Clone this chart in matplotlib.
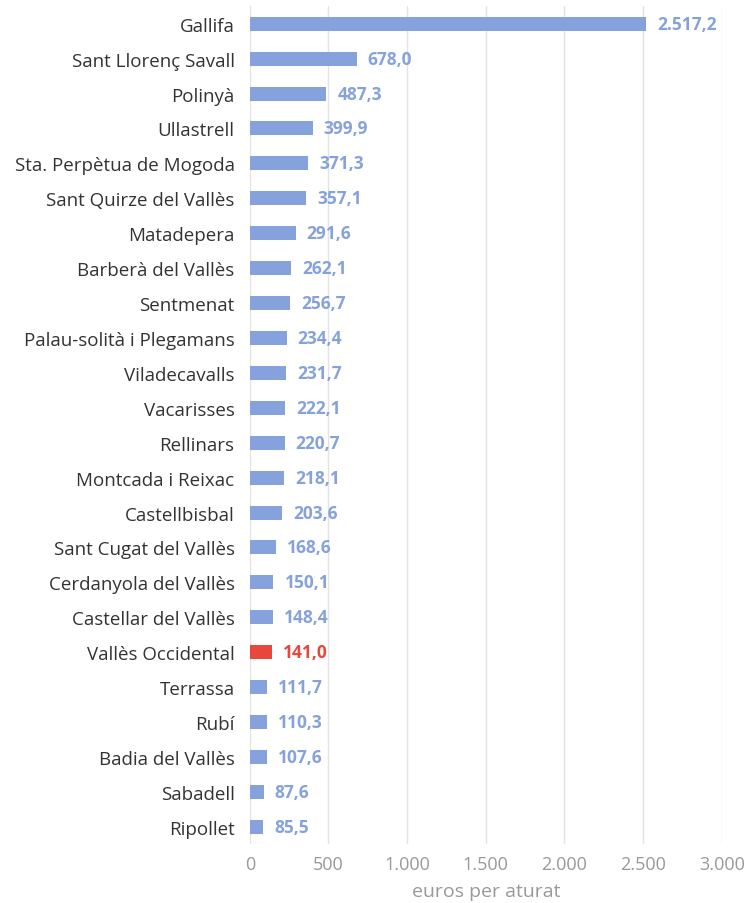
import matplotlib

matplotlib.use("Agg")

import matplotlib.pyplot as plt
from matplotlib.ticker import FuncFormatter

municipis = [
    "Gallifa", "Sant Llorenç Savall", "Polinyà", "Ullastrell",
    "Sta. Perpètua de Mogoda", "Sant Quirze del Vallès", "Matadepera",
    "Barberà del Vallès", "Sentmenat", "Palau-solità i Plegamans",
    "Viladecavalls", "Vacarisses", "Rellinars", "Montcada i Reixac",
    "Castellbisbal", "Sant Cugat del Vallès", "Cerdanyola del Vallès",
    "Castellar del Vallès", "Vallès Occidental", "Terrassa", "Rubí",
    "Badia del Vallès", "Sabadell", "Ripollet",
]
valors = [
    2517.2, 678.0, 487.3, 399.9, 371.3, 357.1, 291.6, 262.1, 256.7, 234.4,
    231.7, 222.1, 220.7, 218.1, 203.6, 168.6, 150.1, 148.4, 141.0, 111.7,
    110.3, 107.6, 87.6, 85.5,
]
destacat = "Vallès Occidental"

BLUE = "#86a2dc"
RED = "#e9463d"
FONT = "Open Sans"


def fmt_num(v, decimals=1):
    s = f"{v:,.{decimals}f}"
    return s.replace(",", "X").replace(".", ",").replace("X", ".")


fig = plt.figure(figsize=(7.48, 9.04), dpi=100)
ax = fig.add_axes([0.334, 0.065, 0.631, 0.927])

colors = [RED if m == destacat else BLUE for m in municipis]
ypos = list(range(len(municipis)))
ax.barh(ypos, valors, height=0.4, color=colors, zorder=3)

for y, v, c in zip(ypos, valors, colors):
    ax.text(v + 70, y, fmt_num(v), va="center", ha="left", color=c,
            fontsize=12.5, fontweight="bold", family=FONT, zorder=4)

ax.set_ylim(len(municipis) - 0.5, -0.5)
ax.set_xlim(0, 3000)
ax.set_xticks(range(0, 3001, 500))
ax.xaxis.set_major_formatter(FuncFormatter(lambda x, _: fmt_num(x, 0)))
ax.set_yticks(ypos)
ax.set_yticklabels(municipis, family=FONT, fontsize=13.5, color="#333333")
for lbl in ax.get_xticklabels():
    lbl.set_family(FONT)
ax.tick_params(axis="x", colors="#999999", labelsize=13, length=0, pad=8)
ax.tick_params(axis="y", length=0, pad=11)
ax.set_xlabel("euros per aturat", family=FONT, fontsize=14, color="#999999", labelpad=6)

ax.grid(axis="x", color="#e3e3e3", linewidth=1, zorder=0)
for side in ax.spines.values():
    side.set_visible(False)

fig.savefig("out.png", dpi=100)
plt.close(fig)
